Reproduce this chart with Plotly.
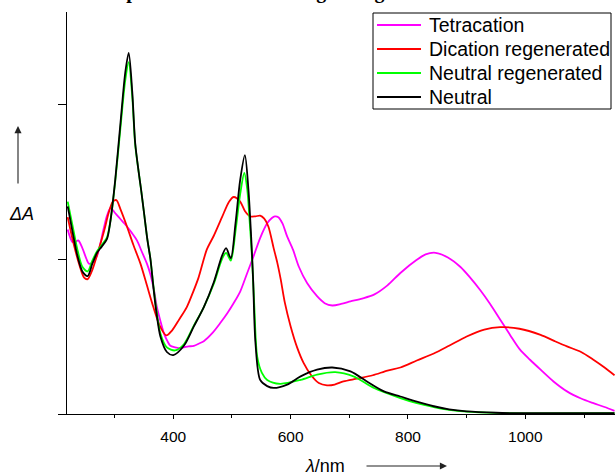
import plotly.graph_objects as go

# ---- data (wavelength in nm, ΔA in arbitrary units) ----
tetra_x = [220, 228, 233, 238, 245, 252, 256, 263, 270, 281, 287, 293, 300, 307, 314, 321, 329, 338, 346, 355, 361, 367, 372, 378, 384, 390, 395, 403, 410, 418, 426, 435, 444, 452, 466, 480, 492, 503, 514, 526, 537, 548, 560, 568, 573, 579, 586, 594, 604, 614, 628, 645, 658, 671, 686, 702, 722, 742, 765, 787, 815, 830, 847, 868, 889, 906, 923, 940, 957, 974, 991, 1008, 1026, 1048, 1071, 1095, 1116, 1135, 1152]
tetra_y = [1.19, 1.11, 1.11, 1.12, 1.07, 1.00, 0.97, 0.98, 1.02, 1.19, 1.28, 1.33, 1.30, 1.27, 1.24, 1.21, 1.17, 1.12, 1.05, 0.97, 0.90, 0.80, 0.69, 0.60, 0.52, 0.47, 0.44, 0.43, 0.425, 0.43, 0.436, 0.44, 0.455, 0.47, 0.52, 0.587, 0.65, 0.716, 0.79, 0.91, 1.02, 1.135, 1.23, 1.265, 1.275, 1.27, 1.23, 1.146, 1.06, 0.95, 0.845, 0.76, 0.715, 0.70, 0.71, 0.726, 0.745, 0.77, 0.83, 0.91, 0.995, 1.03, 1.04, 1.01, 0.95, 0.88, 0.80, 0.71, 0.61, 0.51, 0.415, 0.35, 0.286, 0.21, 0.146, 0.10, 0.07, 0.045, 0.02]

dic_x = [220, 230, 240, 248, 254, 262, 272, 282, 290, 297, 303, 310, 321, 332, 344, 355, 366, 378, 388, 398, 410, 423, 433, 443, 457, 469, 483, 495, 503, 514, 522, 531, 540, 548, 555, 562, 571, 577, 583, 590, 600, 611, 622, 635, 648, 662, 675, 690, 713, 740, 765, 787, 815, 844, 870, 900, 930, 957, 990, 1026, 1050, 1071, 1095, 1116, 1135, 1152]
dic_y = [1.27, 1.10, 0.96, 0.88, 0.87, 0.93, 1.05, 1.18, 1.30, 1.37, 1.38, 1.32, 1.21, 1.09, 0.97, 0.83, 0.69, 0.56, 0.507, 0.54, 0.61, 0.69, 0.78, 0.88, 1.06, 1.15, 1.27, 1.37, 1.40, 1.37, 1.31, 1.275, 1.275, 1.28, 1.26, 1.21, 1.07, 0.98, 0.87, 0.72, 0.565, 0.43, 0.33, 0.25, 0.20, 0.185, 0.19, 0.21, 0.228, 0.25, 0.28, 0.30, 0.345, 0.39, 0.44, 0.50, 0.545, 0.56, 0.55, 0.51, 0.47, 0.436, 0.40, 0.35, 0.30, 0.25]

neureg_x = [220, 228, 236, 245, 254, 262, 270, 278, 287, 293, 301, 310, 318, 324, 330, 335, 341, 345, 350, 356, 361, 366, 371, 378, 389, 403, 418, 435, 452, 469, 483, 490, 498, 506, 514, 521, 526, 530, 534, 538, 543, 551, 560, 582, 617, 645, 676, 707, 742, 787, 815, 844, 870, 900, 950, 1000, 1152]
neureg_y = [1.37, 1.22, 1.07, 0.95, 0.92, 0.99, 1.05, 1.09, 1.14, 1.25, 1.50, 1.85, 2.15, 2.27, 2.05, 1.74, 1.56, 1.45, 1.30, 1.12, 1.00, 0.83, 0.68, 0.52, 0.43, 0.41, 0.45, 0.57, 0.69, 0.84, 1.00, 1.04, 0.99, 1.18, 1.42, 1.555, 1.45, 1.25, 1.02, 0.70, 0.37, 0.265, 0.22, 0.195, 0.22, 0.254, 0.27, 0.243, 0.168, 0.103, 0.07, 0.045, 0.027, 0.015, 0.007, 0.004, 0.005]

neu_x = [220, 228, 236, 245, 254, 262, 270, 278, 287, 293, 301, 310, 318, 324, 330, 335, 341, 345, 350, 356, 361, 366, 371, 378, 389, 400, 418, 435, 452, 469, 483, 490, 498, 506, 514, 522, 528, 533, 536, 540, 548, 560, 571, 594, 617, 645, 671, 702, 730, 759, 787, 815, 844, 870, 900, 950, 1000, 1152]
neu_y = [1.34, 1.18, 1.03, 0.92, 0.89, 0.97, 1.04, 1.08, 1.13, 1.25, 1.51, 1.88, 2.20, 2.33, 2.08, 1.75, 1.56, 1.45, 1.30, 1.12, 1.00, 0.82, 0.66, 0.50, 0.40, 0.38, 0.44, 0.565, 0.69, 0.85, 1.02, 1.07, 1.005, 1.23, 1.51, 1.67, 1.45, 1.12, 0.87, 0.46, 0.22, 0.18, 0.168, 0.19, 0.243, 0.286, 0.30, 0.275, 0.21, 0.146, 0.113, 0.08, 0.05, 0.03, 0.017, 0.008, 0.005, 0.005]

series_names = ["Tetracation", "Dication regenerated", "Neutral regenerated", "Neutral"]
series_x = [tetra_x, dic_x, neureg_x, neu_x]
series_y = [tetra_y, dic_y, neureg_y, neu_y]
series_colors = ["#FF00FF", "#FF0000", "#00FF00", "#000000"]

x_ticks = [400, 600, 800, 1000]
x_tick_labels = ["400", "600", "800", "1000"]
title_text = "Absorption of the ions during storage"

W, H = 615, 474
L, R, T, B = 67, 0, 12, 60
pw, ph = W - L - R, H - T - B


def px2paper_x(px):
    return (px - L) / pw


def px2paper_y(py):
    return (H - B - py) / ph


fig = go.Figure()
for name, xs, ys, col in zip(series_names, series_x, series_y, series_colors):
    fig.add_trace(go.Scatter(x=xs, y=ys, name=name, mode="lines", showlegend=False,
                             line=dict(color=col, width=1.8, shape="spline", smoothing=0.8)))

fig.update_layout(
    width=W, height=H,
    margin=dict(l=L, r=R, t=T, b=B, pad=0),
    paper_bgcolor="white", plot_bgcolor="white",
    font=dict(family="Liberation Sans, Arial, sans-serif", color="black", size=15),
    showlegend=False,
    xaxis=dict(range=[218.8, 218.8 + pw / 0.5867], showgrid=False, zeroline=False,
               showline=True, linecolor="black", linewidth=1.3,
               tickmode="array", tickvals=x_ticks, ticktext=x_tick_labels,
               ticks="outside", ticklen=4, tickwidth=1.2, tickcolor="black",
               tickfont=dict(size=15.5), ticklabelstandoff=4,
               minor=dict(tickvals=[300, 500, 700, 900, 1100], ticks="outside", ticklen=3,
                          tickwidth=1.2, tickcolor="black")),
    yaxis=dict(range=[0, (H - B - T) / 155.0], showgrid=False, zeroline=False,
               showline=True, linecolor="black", linewidth=1.3,
               tickmode="array", tickvals=[0, 1, 2], showticklabels=False,
               ticks="outside", ticklen=8, tickwidth=1.2, tickcolor="black"),
)

annotations = [
    dict(text="<b>" + title_text + "</b>", xref="paper", yref="paper",
         x=px2paper_x(72), y=px2paper_y(5), xanchor="left", yanchor="bottom", showarrow=False,
         font=dict(family="Liberation Serif, Times New Roman, serif", size=20, color="black")),
    dict(text="<i>ΔA</i>", xref="paper", yref="paper", x=px2paper_x(21.5), y=px2paper_y(213.5),
         xanchor="center", yanchor="middle", showarrow=False, font=dict(size=18)),
    dict(text="<i>λ</i>/nm", xref="paper", yref="paper", x=px2paper_x(325), y=px2paper_y(466),
         xanchor="center", yanchor="middle", showarrow=False, font=dict(size=18)),
    dict(text="", xref="paper", yref="paper", x=px2paper_x(18), y=px2paper_y(126),
         ax=0, ay=59, showarrow=True, arrowhead=2, arrowsize=1.3, arrowwidth=1.1, arrowcolor="#222"),
    dict(text="", xref="paper", yref="paper", x=px2paper_x(447), y=px2paper_y(466),
         ax=-82, ay=0, showarrow=True, arrowhead=2, arrowsize=1.3, arrowwidth=1.1, arrowcolor="#222"),
]

# legend box drawn by hand (entries from the series lists)
shapes = [dict(type="rect", xref="paper", yref="paper",
               x0=px2paper_x(373), x1=px2paper_x(611), y0=px2paper_y(13), y1=px2paper_y(109),
               line=dict(color="black", width=1), fillcolor="white", layer="above")]
entry_y = [25, 49, 73, 97]
for name, col, ey in zip(series_names, series_colors, entry_y):
    shapes.append(dict(type="line", xref="paper", yref="paper",
                       x0=px2paper_x(377), x1=px2paper_x(421), y0=px2paper_y(ey), y1=px2paper_y(ey),
                       line=dict(color=col, width=2), layer="above"))
    annotations.append(dict(text=name, xref="paper", yref="paper", x=px2paper_x(427),
                            y=px2paper_y(ey), xanchor="left", yanchor="middle", showarrow=False,
                            font=dict(size=19.5)))

fig.update_layout(annotations=annotations, shapes=shapes)

fig.write_html("out.html", config={"displayModeBar": False},
               post_script="document.body.style.margin='0px';")
